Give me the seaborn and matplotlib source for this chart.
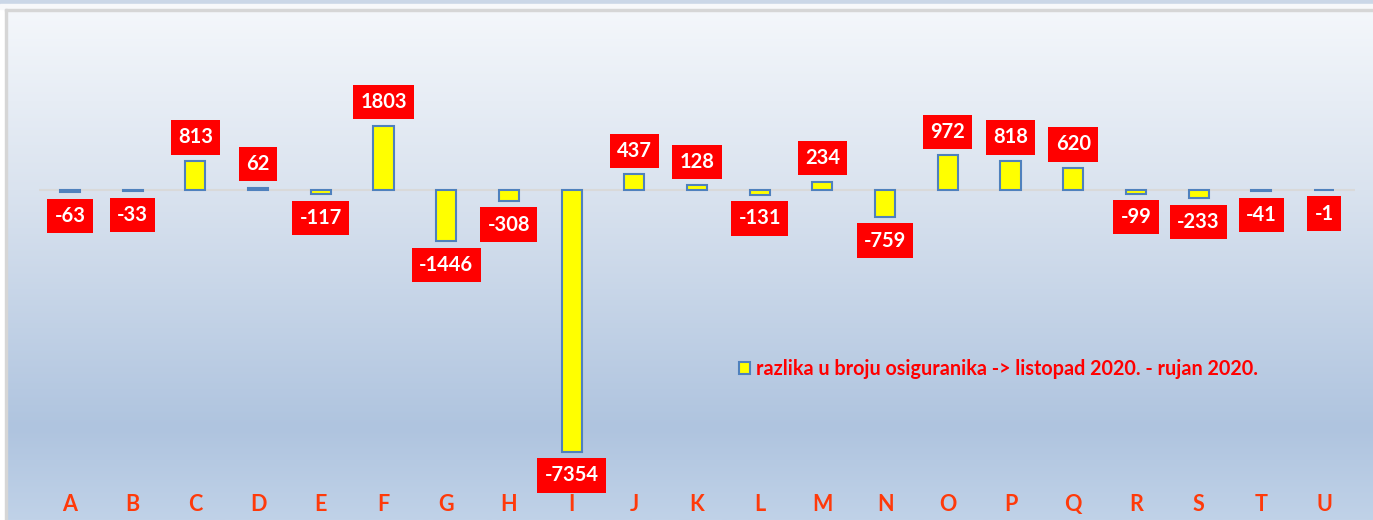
import numpy as np
import matplotlib.pyplot as plt
import matplotlib.patches as mpatches
from matplotlib.colors import LinearSegmentedColormap
import seaborn as sns

# data
categories = ['A', 'B', 'C', 'D', 'E', 'F', 'G', 'H', 'I', 'J', 'K',
              'L', 'M', 'N', 'O', 'P', 'Q', 'R', 'S', 'T', 'U']
differences = [-63, -33, 813, 62, -117, 1803, -1446, -308, -7354, 437, 128,
               -131, 234, -759, 972, 818, 620, -99, -233, -41, -1]
series_label = 'razlika u broju osiguranika -> listopad 2020. - rujan 2020.'

sns.set_theme(style='white')
plt.rcParams['font.family'] = ['Lato', 'DejaVu Sans']

W, H = 1373, 520
fig = plt.figure(figsize=(W / 100, H / 100), dpi=100)
fig.patch.set_facecolor('white')

# background: frame strip on top, panel with vertical gradient
bg = fig.add_axes([0, 0, 1, 1])
bg.set_xlim(0, W)
bg.set_ylim(H, 0)
bg.axis('off')
grad = LinearSegmentedColormap.from_list(
    'panel', [(0.0, '#f4f7fb'), (0.35, '#dae3ef'), (0.82, '#afc4df'), (1.0, '#c0d2e8')])
bg.imshow(np.linspace(0, 1, 256).reshape(-1, 1), cmap=grad, aspect='auto',
          extent=(7, W, H, 11), zorder=0)
bg.add_patch(mpatches.Rectangle((0, 0), W, 4, color='#cbd7e7', zorder=1))
bg.add_patch(mpatches.Rectangle((0, 4), W, 5, color='#f7f8fa', zorder=1))
bg.add_patch(mpatches.Rectangle((5, 9), W, 2, color='#d6d6d6', zorder=1))
bg.add_patch(mpatches.Rectangle((5, 9), 2, H, color='#d6d6d6', zorder=1))

# main chart axes, placed so the category slots match the reference
px_per_unit = 0.0356
zero_px, top_px, bot_px = 190, 10, 494
left_px, right_px = 38.65, 1355.35
ax = fig.add_axes([left_px / W, (H - bot_px) / H,
                   (right_px - left_px) / W, (bot_px - top_px) / H])
ax.set_facecolor('none')

sns.barplot(x=categories, y=differences, color='#ffff00', saturation=1,
            edgecolor='#4f81bd', linewidth=1.5, width=0.32, ax=ax, zorder=3)

ax.set_xlim(-0.5, len(categories) - 0.5)
ax.set_ylim(-(bot_px - zero_px) / px_per_unit, (zero_px - top_px) / px_per_unit)
ax.axhline(0, color='#d9d9d9', linewidth=1.5, zorder=2)

for i, v in enumerate(differences):
    offset = 17 if v > 0 else -17
    ax.annotate(str(v), (i, v), xytext=(0, offset), textcoords='offset points',
                ha='center', va='center', fontsize=14.5, fontweight='bold',
                color='white', zorder=5,
                bbox=dict(boxstyle='square,pad=0.36', facecolor='#ff0000',
                          edgecolor='none'))

ax.set_yticks([])
ax.set_xlabel('')
ax.set_ylabel('')
ax.tick_params(axis='x', length=0, pad=0)
for lab in ax.get_xticklabels():
    lab.set_color('#ff3a0a')
    lab.set_fontweight('bold')
    lab.set_fontsize(15.5)
for s in ax.spines.values():
    s.set_visible(False)

handle = mpatches.Patch(facecolor='#ffff00', edgecolor='#4f81bd', linewidth=1.5)
leg = ax.legend([handle], [series_label], loc='center left',
                bbox_to_anchor=((739 - left_px) / (right_px - left_px),
                                (bot_px - 369) / (bot_px - top_px)),
                frameon=False, handlelength=0.55, handleheight=0.55,
                handletextpad=0.3, borderaxespad=0, borderpad=0,
                prop={'weight': 'bold', 'size': 14.2})
for t in leg.get_texts():
    t.set_color('#ff0000')

fig.savefig('out.png', dpi=100)
